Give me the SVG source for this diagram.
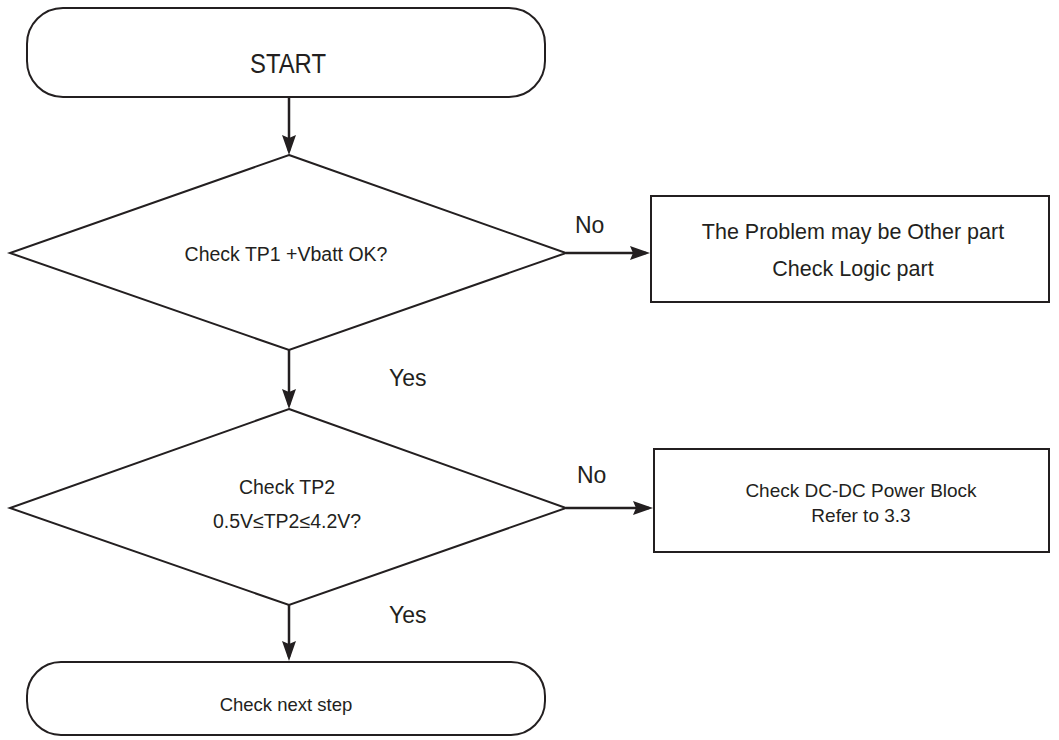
<svg xmlns="http://www.w3.org/2000/svg" width="1059" height="740" viewBox="0 0 1059 740">
<defs>
<marker id="ah" markerWidth="20" markerHeight="14" refX="16" refY="7" orient="auto" markerUnits="userSpaceOnUse" viewBox="0 0 20 14">
<path d="M0,0 L20,7 L0,14 L3,7 Z" fill="#231f20"/>
</marker>
<style>
.s{fill:#fff;stroke:#231f20;stroke-width:2}
.c{fill:none;stroke:#231f20;stroke-width:2.5}
text{font-family:"Liberation Sans",Arial,sans-serif;fill:#231f20;text-anchor:middle}
.lb{font-size:23px;text-anchor:start}
</style>
</defs>
<rect width="1059" height="740" fill="#fff"/>
<g id="connectors">
<line class="c" x1="289" y1="97" x2="289" y2="151" marker-end="url(#ah)"/>
<line class="c" x1="566" y1="253" x2="646" y2="253" marker-end="url(#ah)"/>
<line class="c" x1="289" y1="350" x2="289" y2="405" marker-end="url(#ah)"/>
<line class="c" x1="566" y1="508" x2="649" y2="508" marker-end="url(#ah)"/>
<line class="c" x1="289" y1="605" x2="289" y2="657" marker-end="url(#ah)"/>
<text class="lb" x="575" y="233">No</text>
<text class="lb" x="389" y="386">Yes</text>
<text class="lb" x="577" y="483">No</text>
<text class="lb" x="389" y="623">Yes</text>
</g>
<g id="start">
<rect class="s" x="27" y="8" width="518" height="89" rx="36"/>
<text x="288" y="73" font-size="28" textLength="76" lengthAdjust="spacingAndGlyphs">START</text>
</g>
<g id="check-tp1">
<polygon class="s" points="289,155 566,253 289,350 10,253"/>
<text x="286" y="261" font-size="19.5">Check TP1 +Vbatt OK?</text>
</g>
<g id="other-part">
<rect class="s" x="651" y="196" width="398" height="106"/>
<text x="853" y="239" font-size="21.5">The Problem may be Other part</text>
<text x="853" y="276" font-size="21.5">Check Logic part</text>
</g>
<g id="check-tp2">
<polygon class="s" points="289,409 566,508 289,605 10,508"/>
<text x="287" y="494" font-size="19.5">Check TP2</text>
<text x="287" y="528" font-size="19.5">0.5V≤TP2≤4.2V?</text>
</g>
<g id="dcdc">
<rect class="s" x="654" y="449" width="395" height="103"/>
<text x="861" y="497" font-size="19">Check DC-DC Power Block</text>
<text x="861" y="522" font-size="19">Refer to 3.3</text>
</g>
<g id="next-step">
<rect class="s" x="27" y="662" width="518" height="73" rx="34"/>
<text x="286" y="711" font-size="18.5">Check next step</text>
</g>
</svg>
